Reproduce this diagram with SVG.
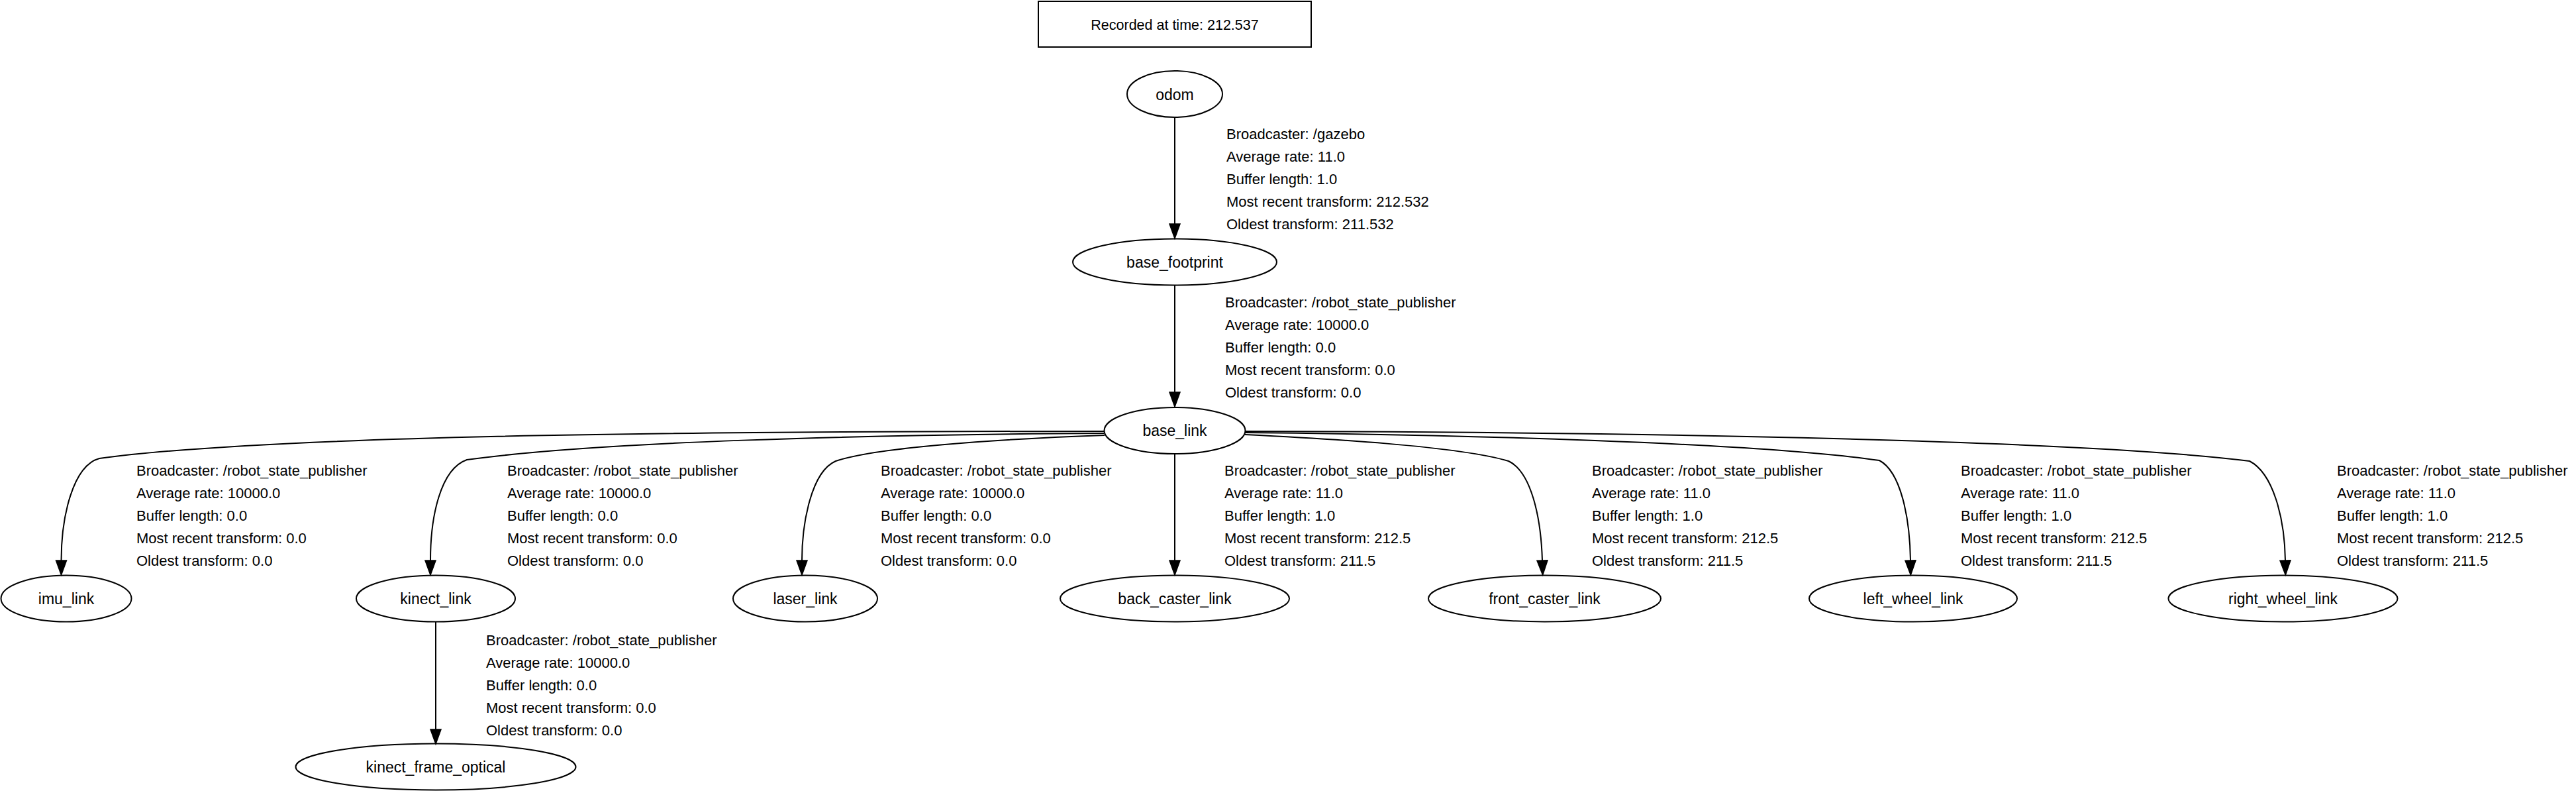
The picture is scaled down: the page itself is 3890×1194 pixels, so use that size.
<svg xmlns="http://www.w3.org/2000/svg" width="3890" height="1194" viewBox="0 0 3890 1194">
<style>
.bg{fill:#fff}
.nd{fill:none;stroke:#000;stroke-width:2}
.nt{font-family:"Liberation Sans",Arial,sans-serif;font-size:23px;fill:#000;text-anchor:middle}
.lb{font-family:"Liberation Sans",Arial,sans-serif;font-size:22px;fill:#000}
.tt{font-family:"Liberation Sans",Arial,sans-serif;font-size:21.5px;fill:#000;text-anchor:middle}
.ed{fill:none;stroke:#000;stroke-width:2;marker-end:url(#arr)}
</style>
<defs>
<marker id="arr" markerUnits="userSpaceOnUse" viewBox="0 0 22 16" markerWidth="22" markerHeight="16" refX="0" refY="8" orient="auto" overflow="visible">
<path d="M0,0 L22,8 L0,16 Z" fill="#000" stroke="#000" stroke-width="1.5"/>
</marker>
</defs>
<rect class="bg" x="0" y="0" width="3890" height="1194"/>

<g id="title">
<rect x="1568" y="2" width="412" height="69" fill="none" stroke="#000" stroke-width="2"/>
<text class="tt" x="1774" y="45">Recorded at time: 212.537</text>
</g>

<g id="connectors">
<g id="e-odom-base_footprint">
<path class="ed" d="M1774,177 L1774,338"/>
<text class="lb"><tspan x="1852" y="210">Broadcaster: /gazebo</tspan><tspan x="1852" y="244">Average rate: 11.0</tspan><tspan x="1852" y="278">Buffer length: 1.0</tspan><tspan x="1852" y="312">Most recent transform: 212.532</tspan><tspan x="1852" y="346">Oldest transform: 211.532</tspan></text>
</g>
<g id="e-base_footprint-base_link">
<path class="ed" d="M1774,430 L1774,592"/>
<text class="lb"><tspan x="1850" y="464">Broadcaster: /robot_state_publisher</tspan><tspan x="1850" y="498">Average rate: 10000.0</tspan><tspan x="1850" y="532">Buffer length: 0.0</tspan><tspan x="1850" y="566">Most recent transform: 0.0</tspan><tspan x="1850" y="600">Oldest transform: 0.0</tspan></text>
</g>
<g id="e-base_link-imu_link">
<path class="ed" d="M1667,651 C1000,651 400,658 150,692 C110,703 92.5,780 92.5,846"/>
<text class="lb"><tspan x="206" y="718">Broadcaster: /robot_state_publisher</tspan><tspan x="206" y="752">Average rate: 10000.0</tspan><tspan x="206" y="786">Buffer length: 0.0</tspan><tspan x="206" y="820">Most recent transform: 0.0</tspan><tspan x="206" y="854">Oldest transform: 0.0</tspan></text>
</g>
<g id="e-base_link-kinect_link">
<path class="ed" d="M1667,654 C1300,656 900,667 705,694 C665,708 650,780 650,846"/>
<text class="lb"><tspan x="766" y="718">Broadcaster: /robot_state_publisher</tspan><tspan x="766" y="752">Average rate: 10000.0</tspan><tspan x="766" y="786">Buffer length: 0.0</tspan><tspan x="766" y="820">Most recent transform: 0.0</tspan><tspan x="766" y="854">Oldest transform: 0.0</tspan></text>
</g>
<g id="e-base_link-laser_link">
<path class="ed" d="M1668,657 C1500,663 1320,676 1262,696 C1225,712 1211,790 1211,846"/>
<text class="lb"><tspan x="1330" y="718">Broadcaster: /robot_state_publisher</tspan><tspan x="1330" y="752">Average rate: 10000.0</tspan><tspan x="1330" y="786">Buffer length: 0.0</tspan><tspan x="1330" y="820">Most recent transform: 0.0</tspan><tspan x="1330" y="854">Oldest transform: 0.0</tspan></text>
</g>
<g id="e-base_link-back_caster_link">
<path class="ed" d="M1774,685 L1774,846"/>
<text class="lb"><tspan x="1849" y="718">Broadcaster: /robot_state_publisher</tspan><tspan x="1849" y="752">Average rate: 11.0</tspan><tspan x="1849" y="786">Buffer length: 1.0</tspan><tspan x="1849" y="820">Most recent transform: 212.5</tspan><tspan x="1849" y="854">Oldest transform: 211.5</tspan></text>
</g>
<g id="e-base_link-front_caster_link">
<path class="ed" d="M1880,656 C2000,662 2200,673 2278,696 C2312,712 2327,780 2329,846"/>
<text class="lb"><tspan x="2404" y="718">Broadcaster: /robot_state_publisher</tspan><tspan x="2404" y="752">Average rate: 11.0</tspan><tspan x="2404" y="786">Buffer length: 1.0</tspan><tspan x="2404" y="820">Most recent transform: 212.5</tspan><tspan x="2404" y="854">Oldest transform: 211.5</tspan></text>
</g>
<g id="e-base_link-left_wheel_link">
<path class="ed" d="M1880,653 C2200,656 2650,668 2838,695 C2870,712 2884,780 2885,846"/>
<text class="lb"><tspan x="2961" y="718">Broadcaster: /robot_state_publisher</tspan><tspan x="2961" y="752">Average rate: 11.0</tspan><tspan x="2961" y="786">Buffer length: 1.0</tspan><tspan x="2961" y="820">Most recent transform: 212.5</tspan><tspan x="2961" y="854">Oldest transform: 211.5</tspan></text>
</g>
<g id="e-base_link-right_wheel_link">
<path class="ed" d="M1880,651 C2500,652 3150,665 3397,696 C3432,714 3450,780 3451,846"/>
<text class="lb"><tspan x="3529" y="718">Broadcaster: /robot_state_publisher</tspan><tspan x="3529" y="752">Average rate: 11.0</tspan><tspan x="3529" y="786">Buffer length: 1.0</tspan><tspan x="3529" y="820">Most recent transform: 212.5</tspan><tspan x="3529" y="854">Oldest transform: 211.5</tspan></text>
</g>
<g id="e-kinect_link-kinect_frame_optical">
<path class="ed" d="M658,938.5 L658,1101"/>
<text class="lb"><tspan x="734" y="974">Broadcaster: /robot_state_publisher</tspan><tspan x="734" y="1008">Average rate: 10000.0</tspan><tspan x="734" y="1042">Buffer length: 0.0</tspan><tspan x="734" y="1076">Most recent transform: 0.0</tspan><tspan x="734" y="1110">Oldest transform: 0.0</tspan></text>
</g>
</g>

<g id="odom"><ellipse class="nd" cx="1774" cy="142" rx="72" ry="35"/><text class="nt" x="1774" y="151">odom</text></g>
<g id="base_footprint"><ellipse class="nd" cx="1774" cy="395.5" rx="154" ry="35"/><text class="nt" x="1774" y="404">base_footprint</text></g>
<g id="base_link"><ellipse class="nd" cx="1774" cy="650" rx="106.5" ry="35"/><text class="nt" x="1774" y="658">base_link</text></g>
<g id="imu_link"><ellipse class="nd" cx="100" cy="903.5" rx="98.5" ry="35"/><text class="nt" x="100" y="912">imu_link</text></g>
<g id="kinect_link"><ellipse class="nd" cx="658" cy="903.5" rx="120" ry="35"/><text class="nt" x="658" y="912">kinect_link</text></g>
<g id="laser_link"><ellipse class="nd" cx="1216" cy="903.5" rx="109" ry="35"/><text class="nt" x="1216" y="912">laser_link</text></g>
<g id="back_caster_link"><ellipse class="nd" cx="1774" cy="903.5" rx="173" ry="35"/><text class="nt" x="1774" y="912">back_caster_link</text></g>
<g id="front_caster_link"><ellipse class="nd" cx="2332.5" cy="903.5" rx="175.5" ry="35"/><text class="nt" x="2332.5" y="912">front_caster_link</text></g>
<g id="left_wheel_link"><ellipse class="nd" cx="2889" cy="903.5" rx="157" ry="35"/><text class="nt" x="2889" y="912">left_wheel_link</text></g>
<g id="right_wheel_link"><ellipse class="nd" cx="3447.5" cy="903.5" rx="173" ry="35"/><text class="nt" x="3447.5" y="912">right_wheel_link</text></g>
<g id="kinect_frame_optical"><ellipse class="nd" cx="658" cy="1157.5" rx="211.5" ry="35"/><text class="nt" x="658" y="1166">kinect_frame_optical</text></g>
</svg>
